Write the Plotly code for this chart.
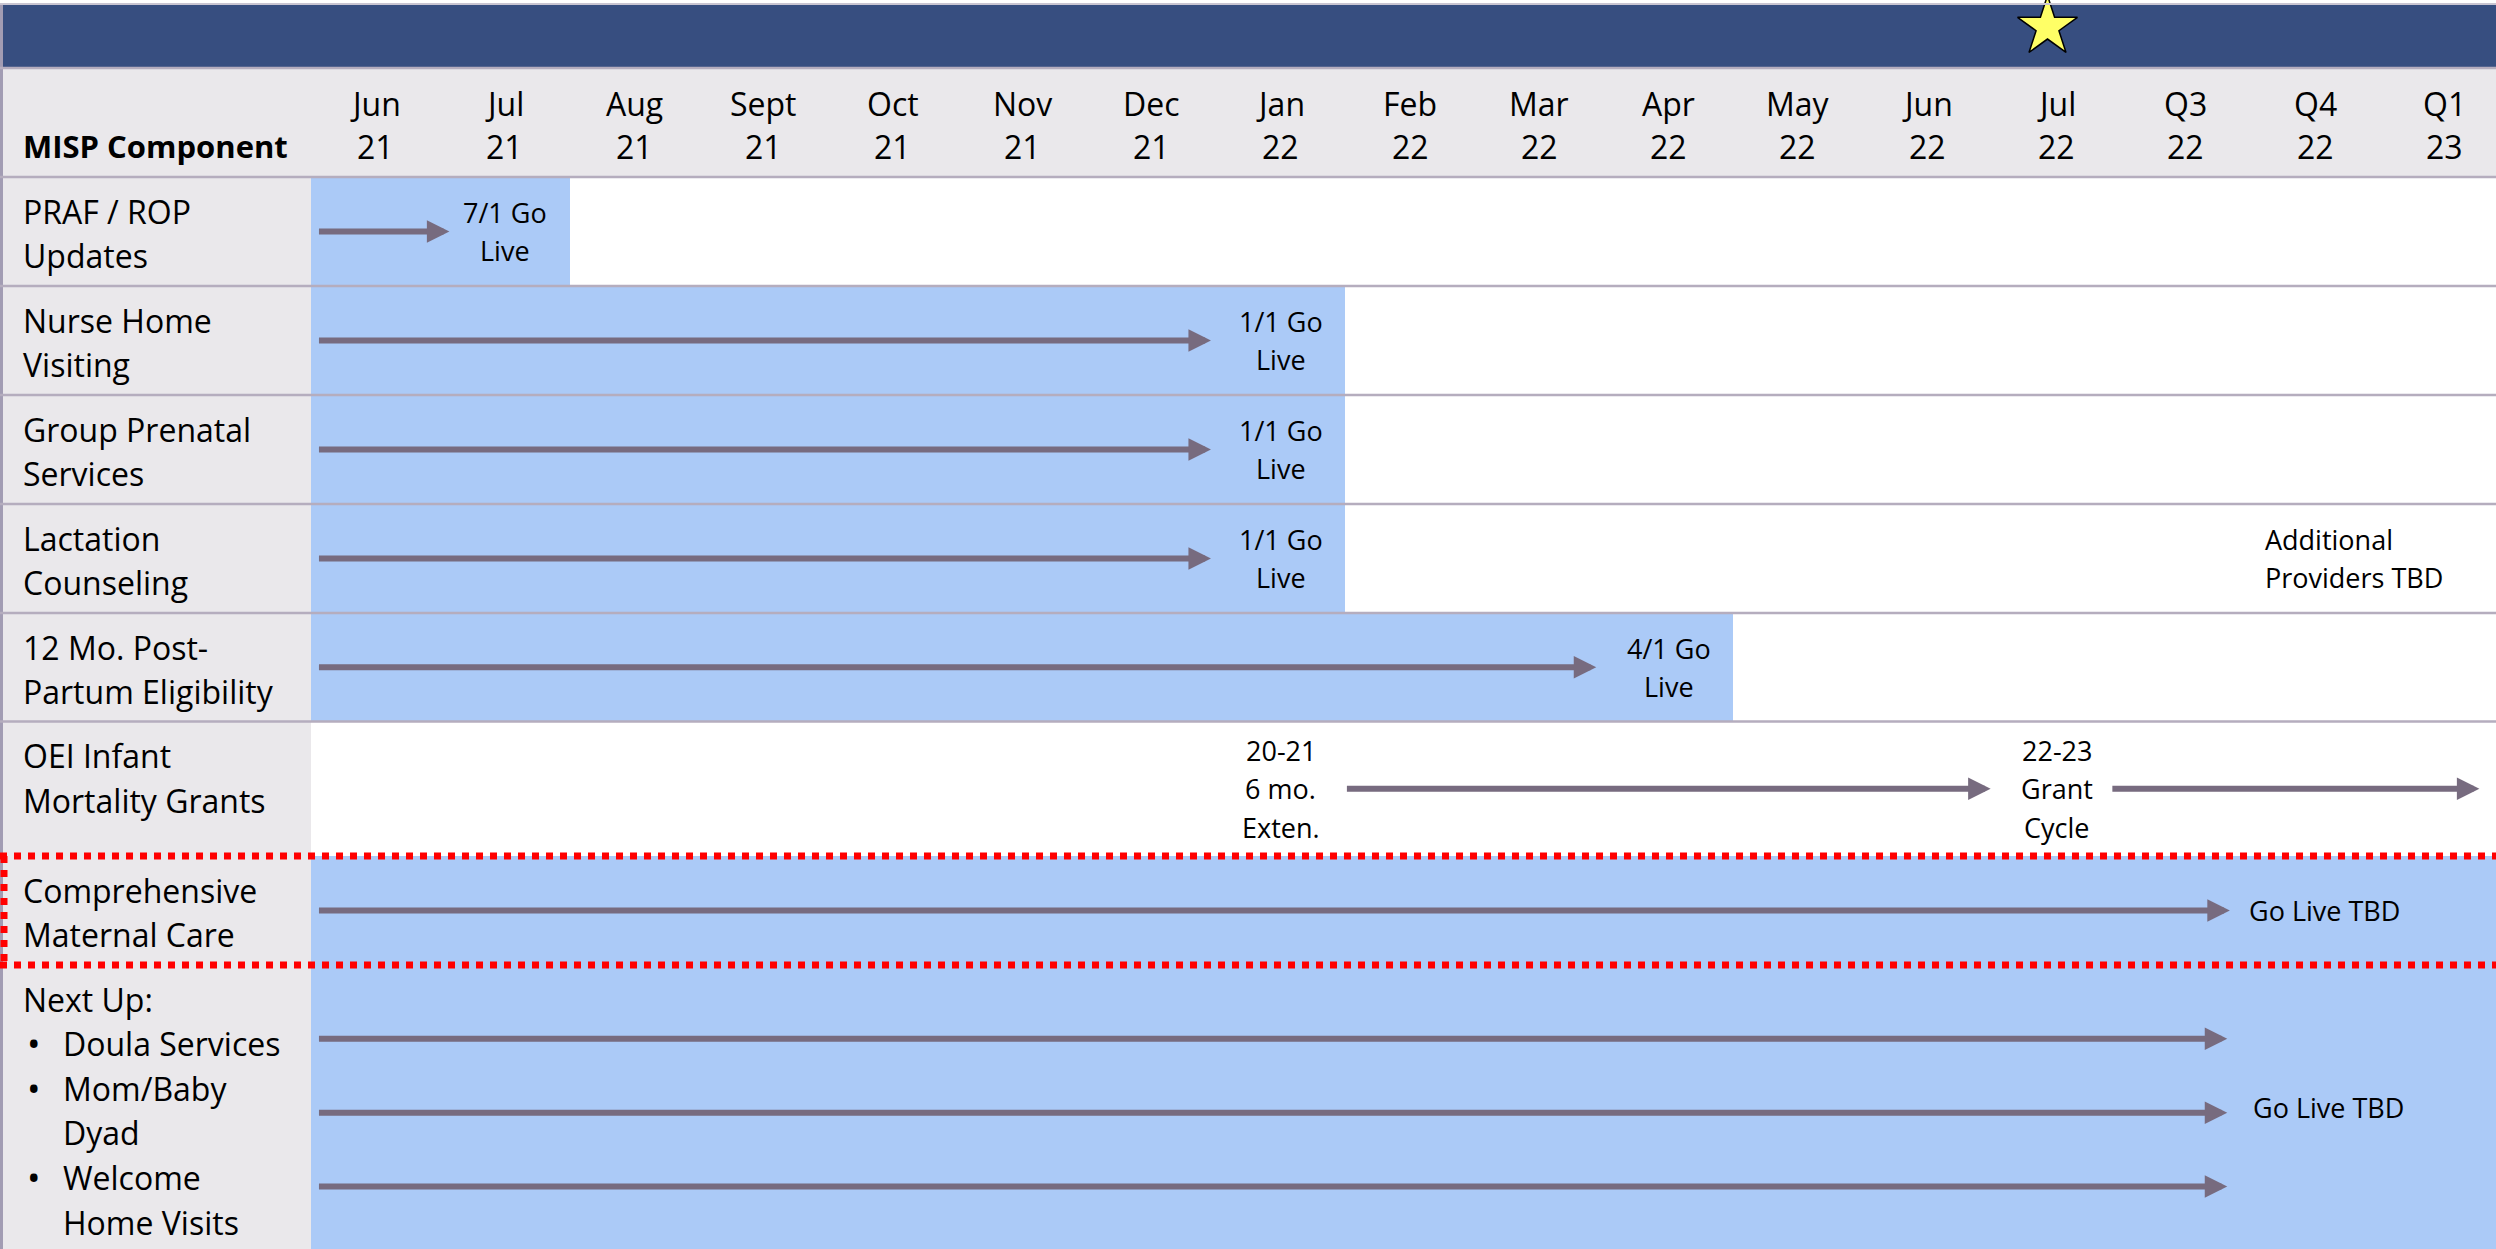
import plotly.graph_objects as go

# timeline columns
months = ["Jun", "Jul", "Aug", "Sept", "Oct", "Nov", "Dec", "Jan", "Feb",
          "Mar", "Apr", "May", "Jun", "Jul", "Q3", "Q4", "Q1"]
years = ["21", "21", "21", "21", "21", "21", "21", "22", "22",
         "22", "22", "22", "22", "22", "22", "22", "23"]

# rows
components = ["PRAF / ROP\nUpdates", "Nurse Home\nVisiting", "Group Prenatal\nServices",
              "Lactation\nCounseling", "12 Mo. Post-\nPartum Eligibility",
              "OEI Infant\nMortality Grants", "Comprehensive\nMaternal Care", "Next Up:"]
next_up_items = ["Doula Services", "Mom/Baby\nDyad", "Welcome\nHome Visits"]

# shaded period per row, in month columns (0 = Jun 21)
fill_start = [0, 0, 0, 0, 0, 0, 0, 0]
fill_end = [2, 8, 8, 8, 11, 0, 17, 17]

# arrows: row, start/end in month columns, vertical lane inside the row
arrow_row = [0, 1, 2, 3, 4, 5, 5, 6, 7, 7, 7]
arrow_start = [0.05, 0.05, 0.05, 0.05, 0.05, 8.0, 13.92, 0.05, 0.05, 0.05, 0.05]
arrow_end = [1.07, 6.96, 6.96, 6.96, 9.94, 12.99, 16.77, 14.84, 14.82, 14.82, 14.82]
arrow_lane = [0.5, 0.5, 0.5, 0.5, 0.5, 0.5, 0.5, 0.5, 0.26, 0.52, 0.78]

# milestone notes (column position; centred notes sit mid-column)
note_row = [0, 1, 2, 3, 3, 4, 5, 5, 6, 7]
note_col = [1.5, 7.5, 7.5, 7.5, 15.1, 10.5, 7.5, 13.5, 14.97, 15.0]
note_text = ["7/1 Go\nLive", "1/1 Go\nLive", "1/1 Go\nLive", "1/1 Go\nLive",
             "Additional\nProviders TBD", "4/1 Go\nLive", "20-21\n6 mo.\nExten.",
             "22-23\nGrant\nCycle", "Go Live TBD", "Go Live TBD"]
note_align = ["center", "center", "center", "center", "left", "center",
              "center", "center", "left", "left"]

today_col = 13.43  # star marker (Jul 22)

# ---- layout constants (pixels) ----
W, H = 2496, 1249
col_w = 129.3
left_w = 311
band = (5, 68)
header_bot = 177
row_edges = [177, 286, 395, 504, 613, 721.5, 856, 965, 1249]
label_x = 21
font = "Open Sans"
navy = "#374E80"
grey_bg = "#EAE8EB"
blue = "#ABCAF7"
arrow_c = "#776B7F"
sep_c = "#B5ADBE"

fig = go.Figure()

row_top = row_edges[:-1]
row_h = [row_edges[i + 1] - row_edges[i] for i in range(len(components))]
row_mid = [row_top[i] + row_h[i] / 2 for i in range(len(components))]

fig.add_trace(go.Bar(
    orientation="h",
    y=row_mid,
    x=[fill_end[i] - fill_start[i] for i in range(len(components))],
    base=fill_start,
    width=row_h,
    marker=dict(color=blue, line=dict(width=0)),
    hoverinfo="skip",
    showlegend=False,
))

fig.add_trace(go.Scatter(
    x=[today_col], y=[27], mode="markers",
    marker=dict(symbol="star", size=45, color="#FFFF66", line=dict(color="black", width=1.5)),
    cliponaxis=False, hoverinfo="skip", showlegend=False,
))

# backgrounds
fig.add_shape(type="rect", xref="paper", yref="y", x0=0, x1=1, y0=band[0], y1=band[1],
              fillcolor=navy, line_width=0, layer="below")
fig.add_shape(type="rect", xref="paper", yref="y", x0=0, x1=1, y0=band[1], y1=header_bot,
              fillcolor=grey_bg, line_width=0, layer="below")
fig.add_shape(type="rect", xref="paper", yref="y", x0=0, x1=left_w / W, y0=header_bot, y1=H,
              fillcolor=grey_bg, line_width=0, layer="below")
fig.add_shape(type="line", xref="paper", yref="y", x0=0, x1=1, y0=band[0] - 1, y1=band[0] - 1,
              line=dict(color="#C9C5D2", width=2))
fig.add_shape(type="line", xref="paper", yref="y", x0=1.5 / W, x1=1.5 / W, y0=band[0], y1=H,
              line=dict(color="#A29CB3", width=3))

# row separators
for y in [band[1]] + row_edges[:-3]:
    fig.add_shape(type="line", xref="paper", yref="y", x0=0, x1=1, y0=y, y1=y,
                  line=dict(color=sep_c, width=2.5))

# red dotted highlight around Comprehensive Maternal Care
for y in row_edges[6:8]:
    fig.add_shape(type="line", xref="paper", yref="y", x0=0, x1=1, y0=y, y1=y,
                  line=dict(color="#FF0000", width=7, dash="dot"))
fig.add_shape(type="line", xref="paper", yref="y", x0=4 / W, x1=4 / W,
              y0=row_edges[6], y1=row_edges[7], line=dict(color="#FF0000", width=7, dash="dot"))

ann = []


def text_block(lines, x, y0, step, size, xref="x", xanchor="center", bold=False):
    for k, line in enumerate(lines):
        ann.append(dict(x=x, y=y0 + k * step, xref=xref, yref="y", text=f"<b>{line}</b>" if bold else line,
                        showarrow=False, xanchor=xanchor, yanchor="middle",
                        font=dict(family=font, size=size, color="black")))


# header
for i, (m, yr) in enumerate(zip(months, years)):
    text_block([m, yr], i + 0.5, 103, 43, 32)
text_block(["MISP Component"], label_x / W, 146, 0, 31, xref="paper", xanchor="left", bold=True)

# row labels
line_step = 44.6
for i, name in enumerate(components):
    text_block(name.split("\n"), label_x / W, row_top[i] + 34, line_step, 32, xref="paper", xanchor="left")

# next up bullets
k = 1
for item in next_up_items:
    for j, line in enumerate(item.split("\n")):
        yy = row_top[7] + 34 + k * line_step
        if j == 0:
            text_block(["•"], 25 / W, yy, 0, 36, xref="paper", xanchor="left")
        text_block([line], 61 / W, yy, 0, 32, xref="paper", xanchor="left")
        k += 1

# milestone notes
for r, c, t, a in zip(note_row, note_col, note_text, note_align):
    lines = t.split("\n")
    step = 38.5
    y0 = row_mid[r] - (len(lines) - 1) * step / 2
    text_block(lines, c, y0, step, 27, xanchor=a)

# arrows
for r, s, e, lane in zip(arrow_row, arrow_start, arrow_end, arrow_lane):
    yy = row_top[r] + lane * row_h[r]
    ann.append(dict(x=e, y=yy, ax=s, ay=yy, xref="x", yref="y", axref="x", ayref="y",
                    text="", showarrow=True, arrowhead=2, arrowsize=0.75, arrowwidth=6,
                    arrowcolor=arrow_c, standoff=0))

fig.update_layout(
    width=W, height=H,
    margin=dict(l=0, r=0, t=0, b=0),
    paper_bgcolor="white", plot_bgcolor="white",
    annotations=ann,
    bargap=0,
    xaxis=dict(range=[-left_w / col_w, (W - left_w) / col_w], visible=False, fixedrange=True),
    yaxis=dict(range=[H, 0], visible=False, fixedrange=True),
    showlegend=False,
)

fig.write_html("out.html", config={"displayModeBar": False},
               post_script="document.body.style.margin='0';document.body.style.overflow='hidden';")
